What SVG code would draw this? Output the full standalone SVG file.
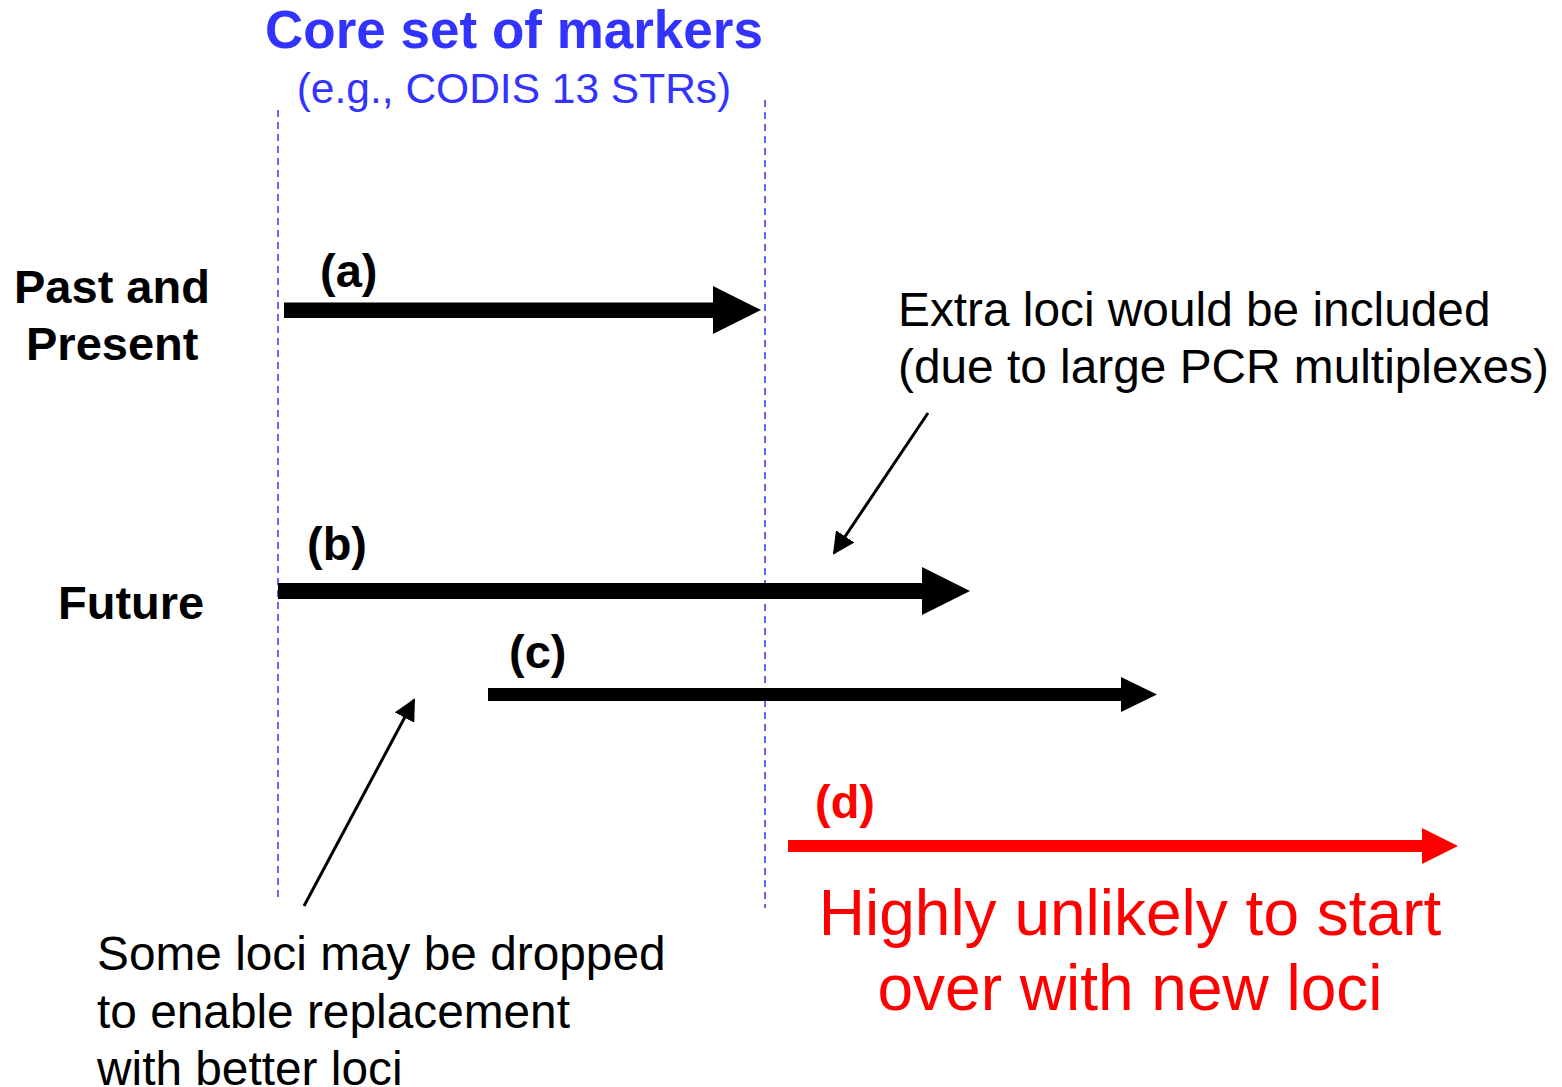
<svg xmlns="http://www.w3.org/2000/svg" width="1562" height="1087" viewBox="0 0 1562 1087">
<style>
.b{font-family:"Liberation Sans",Arial,sans-serif;font-weight:bold;font-size:47px;fill:#000}
.n{font-family:"Liberation Sans",Arial,sans-serif;font-size:47.8px;fill:#000}
.guide{stroke:#3333ff;stroke-width:1.5;stroke-dasharray:7,5;fill:none}
.thin{stroke:#000;stroke-width:3;fill:none}
</style>
<defs>
<marker id="ahs" markerWidth="22" markerHeight="22" refX="20" refY="11" orient="auto" markerUnits="userSpaceOnUse" viewBox="0 0 22 22">
<path d="M0,0 L22,11 L0,22 Z" fill="#000"/>
</marker>
</defs>
<rect width="1562" height="1087" fill="#fff"/>
<g id="header">
<text x="514" y="48" text-anchor="middle" style="font-family:'Liberation Sans',Arial,sans-serif;font-weight:bold;font-size:53px;fill:#3333ff">Core set of markers</text>
<text x="514" y="103" text-anchor="middle" style="font-family:'Liberation Sans',Arial,sans-serif;font-size:42.5px;fill:#3333ff">(e.g., CODIS 13 STRs)</text>
</g>
<g id="guides">
<line class="guide" x1="278" y1="110" x2="278" y2="898"/>
<line class="guide" x1="765" y1="100" x2="765" y2="908"/>
</g>
<g id="row-labels">
<text class="b" x="14" y="303">Past and</text>
<text class="b" x="26" y="360">Present</text>
<text class="b" x="58" y="619">Future</text>
</g>
<g id="connectors">
<path d="M284,302.5 H713 V286 L761,310 L713,334 V318 H284 Z" fill="#000"/>
<path d="M278,583 H922 V567 L970,591 L922,615 V599 H278 Z" fill="#000"/>
<path d="M488,688 H1121 V677 L1157,694.5 L1121,712 V701 H488 Z" fill="#000"/>
<path d="M788,840 H1422 V828 L1458,846 L1422,864 V852 H788 Z" fill="#ff0000"/>
<line class="thin" x1="928" y1="413" x2="834" y2="553" marker-end="url(#ahs)"/>
<line class="thin" x1="304" y1="906" x2="414" y2="700" marker-end="url(#ahs)"/>
</g>
<g id="arrow-labels">
<text class="b" x="320" y="287">(a)</text>
<text class="b" x="307" y="560">(b)</text>
<text class="b" x="509" y="668">(c)</text>
<text class="b" x="815" y="818" style="fill:#ff0000">(d)</text>
</g>
<g id="note-extra">
<text class="n" x="898" y="326">Extra loci would be included</text>
<text class="n" x="898" y="383">(due to large PCR multiplexes)</text>
</g>
<g id="note-dropped">
<text class="n" x="97" y="970">Some loci may be dropped</text>
<text class="n" x="97" y="1028">to enable replacement</text>
<text class="n" x="97" y="1085">with better loci</text>
</g>
<g id="note-unlikely">
<text x="1130" y="935" text-anchor="middle" style="font-family:'Liberation Sans',Arial,sans-serif;font-size:64px;fill:#ff0000">Highly unlikely to start</text>
<text x="1130" y="1010" text-anchor="middle" style="font-family:'Liberation Sans',Arial,sans-serif;font-size:64px;fill:#ff0000">over with new loci</text>
</g>
</svg>
